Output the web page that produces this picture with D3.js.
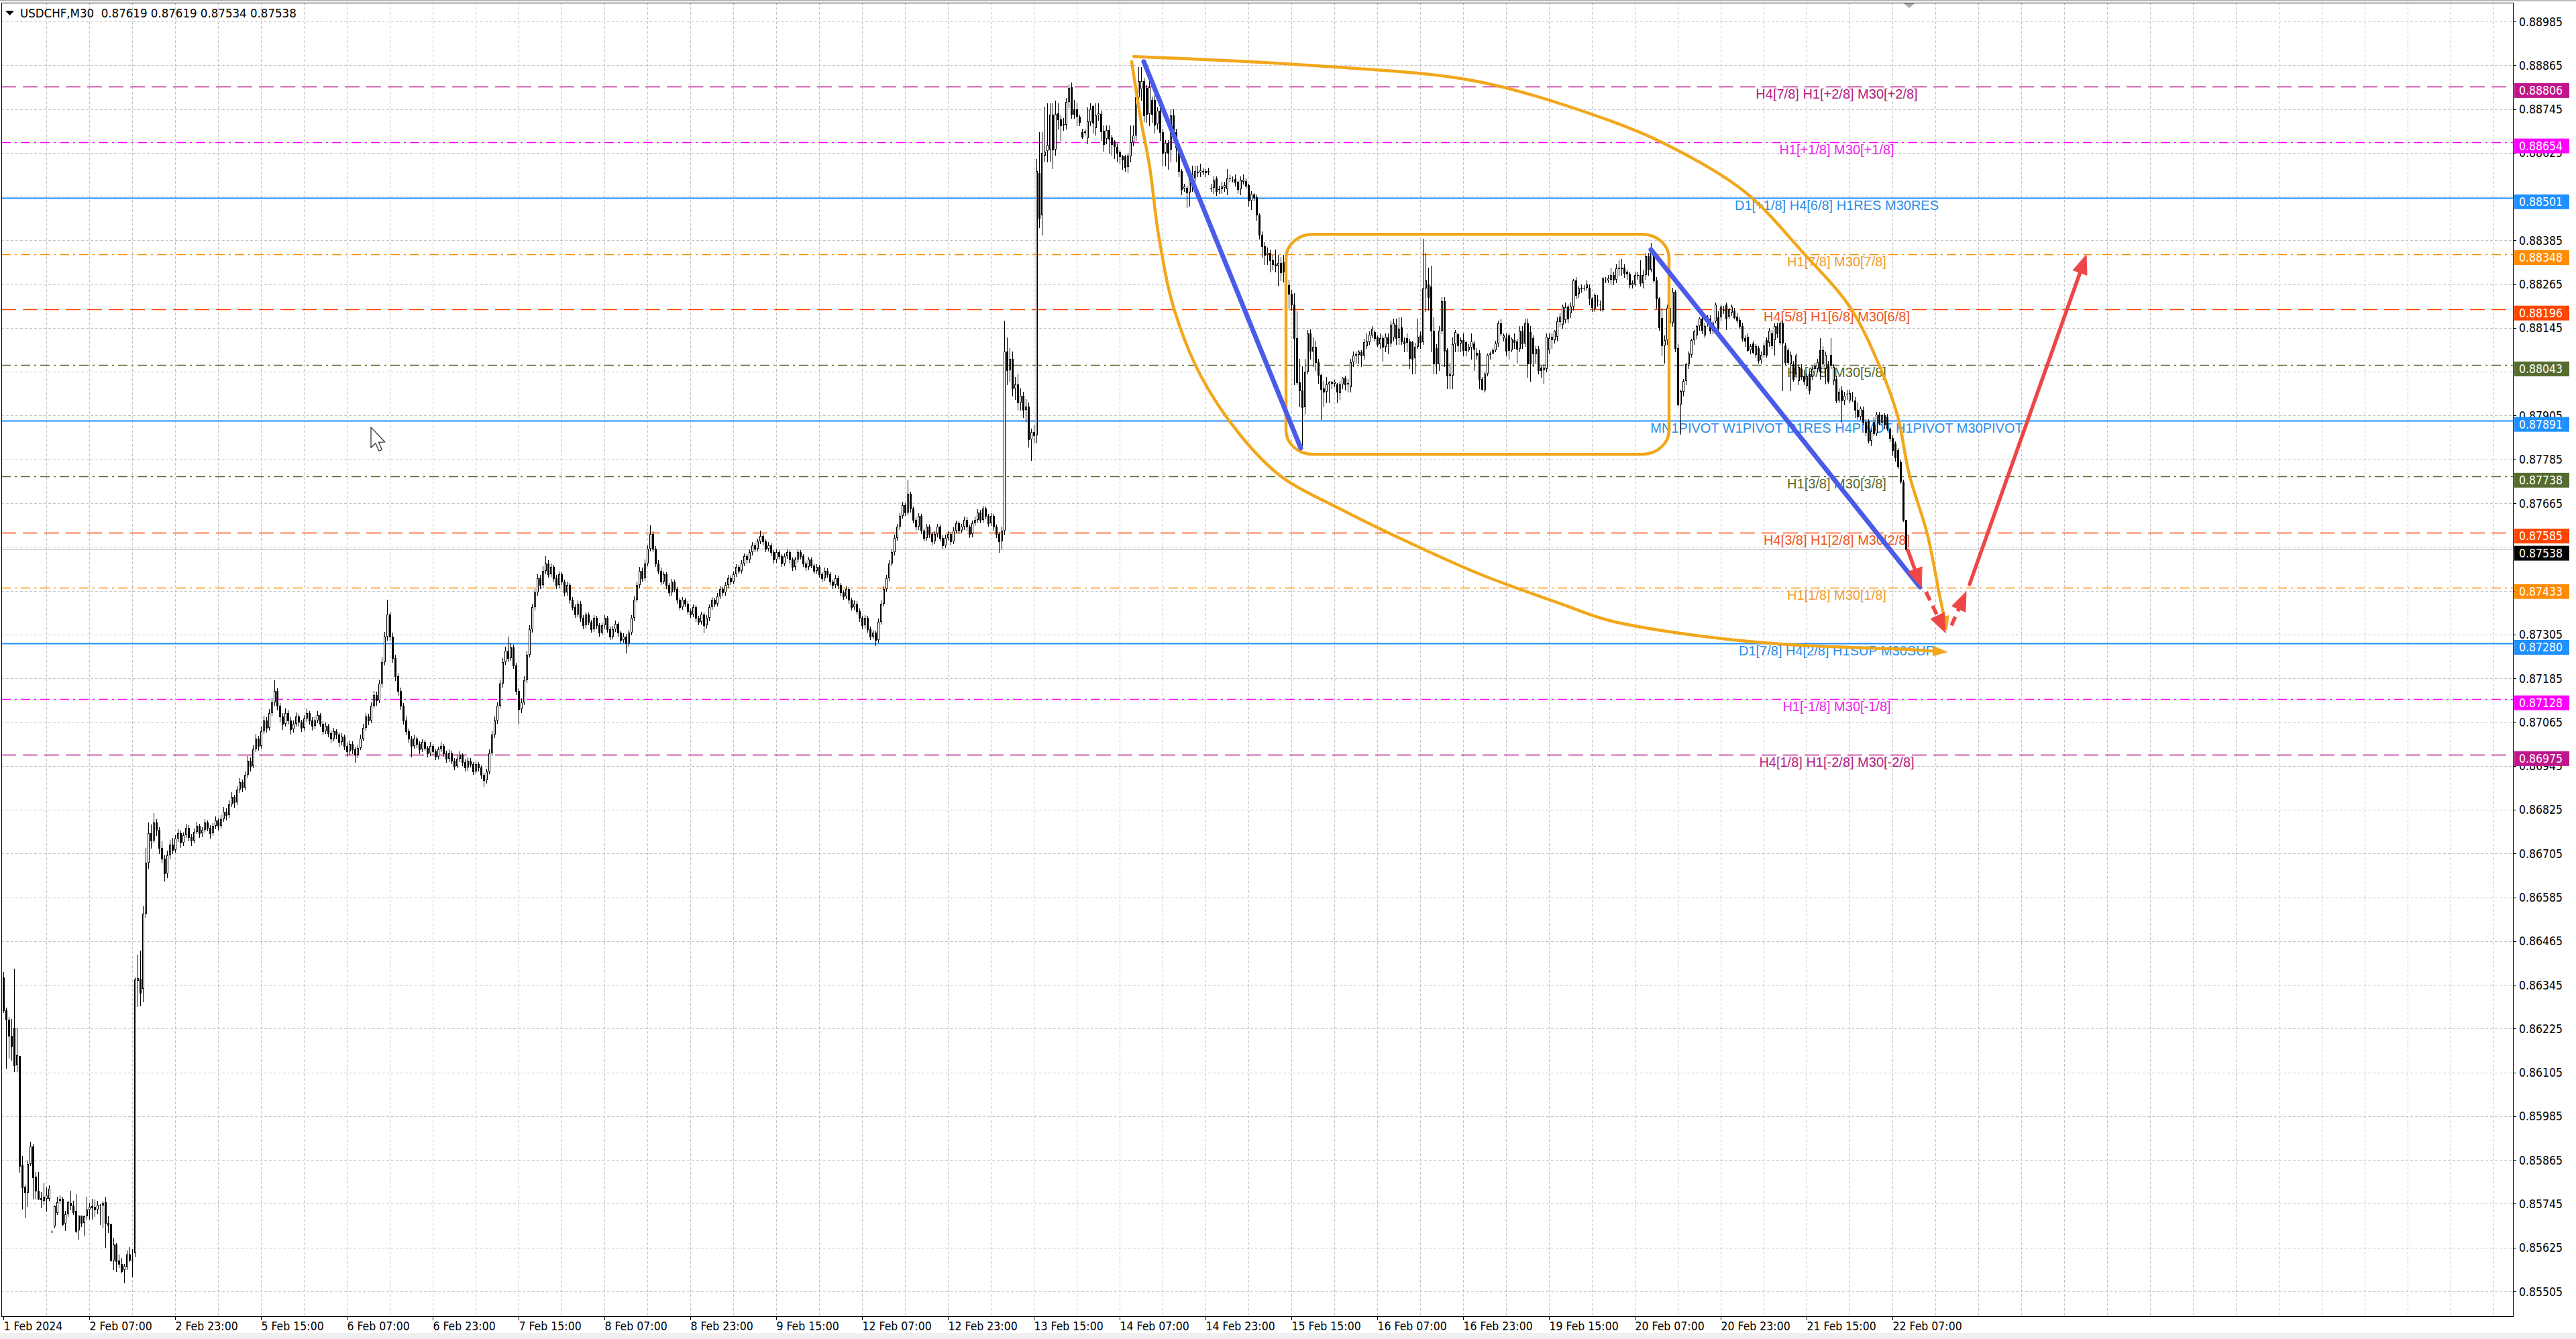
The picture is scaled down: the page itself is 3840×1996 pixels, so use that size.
<!DOCTYPE html>
<html><head><meta charset="utf-8">
<script src="https://cdn.jsdelivr.net/npm/d3@7"></script>
<style>html,body{margin:0;padding:0;background:#fff;overflow:hidden}</style>
</head><body>
<svg id="chart" width="3840" height="1996" xmlns="http://www.w3.org/2000/svg"></svg>
<script>
// ---------------- DATA ----------------
const symbol = "USDCHF,M30";
const PRICE_BASE = 0.85, POINT = 0.00001; // values below are points above 0.85000

const opens = [
1366,1276,1249,1206,1228,1125,1151,850,792,775,
854,903,819,781,760,753,759,759,669,683,
721,753,759,690,716,748,741,725,672,712,
693,710,730,738,736,729,741,740,749,692,
689,589,633,589,581,563,572,607,592,609,
1357,1361,1334,1540,1680,1760,1740,1790,1770,1720,
1690,1650,1700,1730,1715,1745,1760,1735,1755,1775,
1750,1740,1765,1780,1760,1770,1790,1775,1760,1780,
1795,1780,1800,1820,1810,1840,1860,1845,1880,1900,
1885,1920,1960,1945,1990,2020,2000,2040,2070,2050,
2090,2120,2150,2110,2080,2060,2090,2070,2045,2060,
2080,2065,2050,2075,2090,2070,2055,2070,2085,2060,
2040,2055,2035,2020,2040,2030,2010,2025,2000,1985,
2005,1990,1975,1995,2020,2050,2080,2070,2110,2140,
2125,2170,2230,2300,2360,2300,2240,2190,2150,2110,
2070,2040,2020,2000,2020,2005,1990,2010,1995,1980,
2000,1985,1970,1990,2000,1980,1965,1980,1960,1945,
1965,1975,1955,1940,1960,1950,1930,1950,1940,1920,
1905,1930,1980,2030,2070,2110,2170,2230,2260,2240,
2270,2220,2150,2100,2120,2180,2250,2320,2380,2420,
2460,2440,2480,2500,2470,2490,2460,2440,2470,2450,
2420,2440,2400,2380,2360,2390,2350,2330,2360,2340,
2320,2350,2330,2310,2330,2350,2320,2300,2320,2335,
2310,2290,2300,2280,2310,2350,2400,2440,2480,2460,
2500,2540,2580,2540,2500,2480,2450,2470,2440,2420,
2450,2430,2400,2380,2400,2390,2370,2360,2380,2350,
2340,2360,2330,2350,2380,2400,2390,2410,2430,2420,
2440,2460,2450,2470,2490,2480,2500,2520,2510,2530,
2550,2540,2560,2575,2560,2540,2550,2530,2510,2530,
2520,2500,2520,2530,2510,2490,2510,2530,2520,2500,
2490,2510,2495,2480,2490,2470,2460,2480,2470,2450,
2440,2460,2440,2420,2410,2430,2400,2380,2390,2370,
2350,2330,2350,2320,2300,2310,2290,2340,2390,2430,
2460,2500,2530,2570,2600,2630,2660,2640,2690,2650,
2620,2600,2630,2590,2570,2600,2580,2560,2580,2600,
2570,2550,2570,2580,2560,2590,2610,2590,2600,2620,
2600,2580,2610,2620,2640,2620,2650,2630,2610,2630,
2600,2580,2560,2590,3080,3030,3060,2980,2990,2940,
2960,2920,2930,2840,2860,2850,3569,3453,3618,3630,
3633,3730,3633,3733,3717,3703,3702,3765,3805,3744,
3744,3724,3682,3684,3666,3710,3753,3692,3727,3731,
3685,3664,3688,3667,3656,3641,3626,3616,3615,3587,
3615,3655,3673,3777,3799,3822,3803,3731,3770,3770,
3704,3741,3682,3624,3652,3633,3728,3682,3624,3575,
3527,3529,3517,3532,3554,3570,3572,3574,3575,3572,
3530,3529,3554,3525,3525,3529,3526,3555,3552,3553,
3545,3525,3546,3548,3537,3495,3511,3503,3456,3400,
3370,3345,3350,3330,3320,3316,3323,3325,3300,3262,
3238,3210,3118,2996,2974,2928,3026,3131,3080,3094,
3051,3017,2980,2971,2990,2993,2992,2990,2966,2990,
3008,2990,2983,3051,3069,3072,3078,3069,3095,3106,
3124,3134,3121,3100,3118,3094,3120,3103,3120,3155,
3118,3146,3109,3118,3109,3106,3063,3094,3124,3106,
3253,3265,3259,3137,3090,3045,3137,3219,3085,3014,
3014,3100,3128,3103,3112,3106,3085,3091,3103,3076,
3076,3005,2974,3020,3072,3075,3085,3103,3158,3118,
3118,3124,3085,3112,3109,3088,3137,3103,3158,3134,
3118,3073,3088,3036,3030,3033,3085,3112,3112,3121,
3161,3155,3167,3204,3186,3204,3275,3238,3253,3256,
3256,3256,3225,3198,3222,3210,3195,3278,3275,3278,
3290,3278,3308,3308,3311,3299,3293,3262,3265,3291,
3290,3268,3290,3342,3305,3345,3275,3226,3173,3097,
3112,3200,3160,3245,3090,2935,2970,3000,3046,3072,
3112,3125,3151,3170,3125,3157,3171,3138,3164,3174,
3174,3194,3210,3177,3187,3190,3177,3167,3151,3118,
3121,3085,3102,3072,3089,3056,3072,3111,3105,3131,
3111,3151,3105,3157,3098,3085,3046,3046,3020,3000,
3033,3013,2987,3020,3013,3033,3033,3085,3046,3033,
3046,3072,3000,3006,2947,2974,2947,2964,2947,2960,
2947,2921,2902,2921,2888,2892,2836,2888,2856,2908,
2885,2905,2902,2869,2843,2829,2810,2777,2724,2619];

const highs = [
1380,1282,1257,1252,1390,1228,1151,876,796,863,
915,909,833,833,778,802,790,796,672,741,
765,768,765,725,753,781,753,771,713,713,
713,765,747,759,756,753,744,753,765,710,
689,652,637,606,597,581,618,627,621,1365,
1427,1439,1560,1720,1790,1785,1815,1800,1778,1738,
1700,1712,1742,1748,1756,1772,1768,1762,1786,1782,
1758,1774,1792,1786,1778,1800,1796,1782,1788,1806,
1801,1810,1832,1828,1850,1872,1866,1890,1912,1908,
1930,1972,1968,2002,2032,2028,2052,2082,2078,2100,
2132,2180,2158,2118,2090,2102,2098,2078,2070,2092,
2086,2072,2084,2102,2096,2078,2080,2096,2090,2068,
2064,2060,2042,2050,2046,2036,2034,2030,2008,2014,
2012,1996,2004,2030,2060,2090,2088,2120,2150,2148,
2180,2242,2312,2400,2368,2310,2250,2198,2160,2118,
2080,2048,2028,2030,2026,2012,2018,2016,2000,2010,
2006,1990,1998,2010,2006,1986,1990,1986,1966,1974,
1984,1980,1962,1968,1966,1956,1958,1956,1946,1926,
1938,1990,2040,2080,2120,2180,2240,2272,2300,2282,
2278,2228,2158,2130,2190,2260,2330,2390,2430,2470,
2468,2492,2520,2508,2500,2496,2468,2478,2476,2456,
2450,2446,2408,2388,2398,2396,2358,2368,2366,2346,
2358,2356,2336,2338,2358,2356,2326,2328,2344,2340,
2316,2308,2306,2318,2358,2410,2450,2490,2488,2510,
2550,2605,2588,2548,2508,2488,2478,2476,2446,2458,
2456,2436,2406,2408,2406,2396,2376,2388,2386,2356,
2368,2366,2358,2388,2408,2406,2418,2438,2436,2448,
2468,2466,2478,2498,2496,2508,2528,2526,2538,2558,
2556,2568,2590,2580,2566,2558,2556,2536,2538,2536,
2526,2528,2538,2536,2516,2518,2538,2536,2526,2506,
2518,2516,2500,2498,2496,2476,2488,2486,2476,2456,
2468,2466,2446,2426,2438,2436,2406,2398,2396,2376,
2356,2358,2356,2326,2318,2316,2348,2398,2438,2468,
2508,2538,2578,2608,2638,2668,2666,2730,2696,2656,
2626,2638,2636,2596,2608,2606,2586,2588,2608,2606,
2576,2578,2588,2586,2598,2618,2616,2608,2628,2626,
2606,2618,2628,2648,2646,2658,2656,2636,2638,2636,
2606,2586,2600,3166,3120,3090,3080,3010,3020,2980,
2970,2950,2940,2870,2880,3609,3682,3682,3751,3760,
3760,3760,3768,3760,3727,3720,3775,3812,3818,3770,
3760,3730,3690,3690,3750,3760,3755,3760,3760,3740,
3700,3700,3700,3675,3660,3650,3632,3620,3620,3625,
3700,3700,3780,3860,3860,3830,3810,3830,3780,3790,
3750,3750,3690,3660,3660,3745,3745,3690,3630,3580,
3540,3535,3565,3590,3590,3590,3596,3585,3580,3585,
3540,3560,3560,3535,3545,3545,3580,3565,3560,3565,
3550,3560,3565,3555,3540,3520,3515,3510,3460,3410,
3380,3365,3360,3345,3360,3345,3340,3345,3310,3277,
3250,3240,3190,3060,3040,3060,3140,3142,3120,3110,
3060,3020,3000,3010,3000,3000,3004,2995,3000,3010,
3015,3005,3060,3080,3080,3085,3085,3115,3130,3135,
3150,3140,3125,3130,3125,3130,3130,3165,3170,3170,
3175,3175,3120,3130,3115,3110,3105,3170,3135,3390,
3350,3310,3315,3175,3100,3150,3230,3230,3090,3050,
3120,3140,3130,3120,3130,3110,3100,3130,3110,3090,
3085,3010,3025,3075,3080,3090,3110,3165,3170,3130,
3130,3130,3120,3130,3115,3150,3150,3170,3170,3150,
3125,3095,3095,3040,3045,3130,3130,3130,3140,3175,
3185,3210,3215,3210,3215,3280,3285,3260,3265,3262,
3275,3265,3230,3240,3235,3220,3285,3285,3290,3310,
3300,3320,3330,3335,3320,3305,3300,3275,3300,3300,
3330,3305,3350,3350,3378,3360,3285,3230,3200,3125,
3210,3215,3256,3250,3100,2975,3005,3050,3080,3115,
3140,3155,3175,3175,3160,3180,3180,3165,3215,3190,
3210,3205,3215,3200,3210,3200,3185,3175,3160,3125,
3130,3100,3110,3100,3095,3080,3105,3120,3145,3140,
3157,3160,3164,3165,3105,3090,3080,3055,3075,3045,
3045,3030,3020,3025,3040,3050,3060,3118,3095,3080,
3055,3118,3045,3015,2980,2985,2970,2975,2975,2970,
2955,2941,2930,2930,2895,2895,2870,2900,2915,2915,
2910,2912,2910,2875,2850,2835,2815,2785,2730,2619];

const lows = [
1270,1118,1145,1139,1108,1108,833,732,707,738,
851,759,759,756,735,744,725,753,667,680,
716,747,686,673,710,729,716,667,649,683,
658,704,704,704,710,719,689,680,627,667,
587,566,560,572,557,529,566,587,545,600,
1286,1289,1300,1530,1665,1720,1735,1755,1705,1680,
1630,1640,1690,1705,1710,1738,1722,1728,1750,1741,
1728,1735,1760,1750,1752,1764,1768,1748,1755,1774,
1770,1776,1794,1798,1804,1835,1832,1840,1872,1874,
1880,1914,1932,1940,1984,1988,1994,2034,2038,2044,
2084,2112,2098,2068,2046,2054,2060,2032,2038,2054,
2055,2040,2044,2068,2060,2044,2048,2064,2052,2030,
2034,2026,2010,2014,2020,1998,2004,1990,1972,1978,
1980,1955,1968,1990,2014,2044,2058,2064,2104,2112,
2120,2162,2222,2290,2290,2230,2180,2140,2100,2060,
2030,2010,1970,1994,1996,1980,1984,1988,1970,1974,
1976,1962,1964,1984,1972,1956,1958,1952,1936,1940,
1958,1946,1932,1934,1942,1922,1924,1932,1912,1890,
1898,1924,1974,2024,2062,2104,2162,2224,2232,2234,
2212,2142,2060,2092,2114,2174,2244,2312,2372,2414,
2432,2434,2472,2462,2464,2452,2432,2434,2442,2412,
2414,2392,2372,2352,2354,2342,2322,2324,2332,2312,
2314,2322,2302,2304,2324,2312,2292,2294,2314,2302,
2282,2284,2255,2274,2304,2344,2394,2434,2452,2454,
2494,2534,2532,2492,2472,2442,2444,2432,2412,2414,
2422,2392,2372,2374,2382,2362,2352,2354,2342,2332,
2334,2310,2324,2344,2374,2382,2384,2404,2412,2414,
2434,2442,2444,2464,2472,2474,2494,2502,2504,2524,
2532,2534,2554,2552,2532,2534,2522,2502,2504,2512,
2492,2494,2514,2502,2482,2484,2504,2512,2492,2482,
2484,2488,2472,2474,2462,2452,2454,2462,2442,2432,
2434,2432,2412,2402,2404,2392,2372,2374,2362,2342,
2322,2324,2312,2292,2294,2275,2284,2334,2384,2424,
2454,2494,2524,2564,2594,2624,2632,2634,2642,2612,
2592,2594,2582,2562,2564,2572,2552,2554,2574,2562,
2542,2544,2564,2552,2554,2584,2582,2584,2594,2592,
2572,2574,2604,2614,2612,2614,2622,2602,2604,2592,
2572,2530,2540,2580,2990,3000,2960,2950,2920,2920,
2900,2890,2820,2783,2830,2830,3420,3400,3602,3600,
3603,3583,3620,3690,3660,3687,3690,3750,3720,3720,
3700,3700,3665,3675,3650,3700,3680,3675,3715,3660,
3630,3650,3625,3620,3610,3600,3595,3580,3575,3572,
3600,3645,3660,3760,3770,3712,3710,3700,3710,3680,
3690,3660,3590,3590,3580,3600,3660,3600,3560,3510,
3520,3475,3480,3520,3545,3560,3560,3565,3560,3565,
3520,3515,3508,3515,3515,3520,3510,3545,3545,3535,
3515,3510,3540,3530,3480,3470,3495,3440,3390,3340,
3320,3320,3300,3305,3300,3260,3275,3272,3250,3200,
3195,2990,2990,2930,2824,2910,3020,3060,3040,3030,
2995,2895,2930,2940,2940,2980,2985,2940,2950,2980,
2975,2970,2970,3040,3050,3050,3040,3060,3090,3100,
3120,3110,3095,3090,3055,3080,3075,3095,3110,3100,
3100,3100,3080,3080,3035,3020,3020,3090,3090,3100,
3190,3195,3080,3020,3020,3030,3130,3040,2980,2980,
2980,3080,3080,3080,3070,3070,3080,3060,3030,3060,
2980,2975,2970,3015,3060,3075,3080,3095,3125,3110,
3070,3060,3080,3090,3050,3080,3090,3095,3010,3000,
3040,3050,3020,3010,2995,3025,3075,3090,3105,3110,
3150,3145,3160,3160,3175,3195,3225,3230,3245,3248,
3250,3210,3190,3190,3205,3192,3190,3270,3270,3265,
3265,3270,3290,3290,3285,3280,3255,3255,3260,3280,
3260,3255,3280,3290,3300,3270,3200,3140,3070,3050,
3100,3150,3150,3080,2931,2855,2960,2990,3035,3065,
3100,3115,3140,3130,3120,3150,3130,3130,3160,3140,
3165,3185,3141,3170,3180,3170,3160,3145,3110,3095,
3080,3075,3075,3065,3050,3050,3065,3065,3095,3090,
3072,3120,3100,2974,3045,3045,2974,3000,3010,2990,
3005,2990,2980,2965,3005,3025,3025,3006,3040,2993,
2995,3035,2990,2940,2940,2888,2935,2950,2940,2945,
2900,2895,2895,2880,2850,2830,2823,2850,2850,2880,
2880,2870,2865,2835,2796,2780,2760,2720,2615,2534];

const closes = [
1276,1249,1206,1176,1124,1153,848,790,778,854,
903,817,781,759,756,765,768,787,669,738,
750,759,689,716,750,741,722,670,712,692,
710,730,736,735,730,743,741,747,693,687,
589,633,587,580,561,575,606,592,592,1360,
1363,1324,1540,1680,1760,1740,1790,1770,1720,1690,
1650,1700,1730,1715,1745,1760,1735,1755,1775,1750,
1740,1765,1780,1760,1770,1790,1775,1760,1780,1795,
1780,1800,1820,1810,1840,1860,1845,1880,1900,1885,
1920,1960,1945,1990,2020,2000,2040,2070,2050,2090,
2120,2150,2110,2080,2060,2090,2070,2045,2060,2080,
2065,2050,2075,2090,2070,2055,2070,2085,2060,2040,
2055,2035,2020,2040,2030,2010,2025,2000,1985,2005,
1990,1975,1995,2020,2050,2080,2070,2110,2140,2125,
2170,2230,2300,2360,2300,2240,2190,2150,2110,2070,
2040,2020,2000,2020,2005,1990,2010,1995,1980,2000,
1985,1970,1990,2000,1980,1965,1980,1960,1945,1965,
1975,1955,1940,1960,1950,1930,1950,1940,1920,1905,
1930,1980,2030,2070,2110,2170,2230,2260,2240,2270,
2220,2150,2100,2120,2180,2250,2320,2380,2420,2460,
2440,2480,2500,2470,2490,2460,2440,2470,2450,2420,
2440,2400,2380,2360,2390,2350,2330,2360,2340,2320,
2350,2330,2310,2330,2350,2320,2300,2320,2335,2310,
2290,2300,2280,2310,2350,2400,2440,2480,2460,2500,
2540,2580,2540,2500,2480,2450,2470,2440,2420,2450,
2430,2400,2380,2400,2390,2370,2360,2380,2350,2340,
2360,2330,2350,2380,2400,2390,2410,2430,2420,2440,
2460,2450,2470,2490,2480,2500,2520,2510,2530,2550,
2540,2560,2575,2560,2540,2550,2530,2510,2530,2520,
2500,2520,2530,2510,2490,2510,2530,2520,2500,2490,
2510,2495,2480,2490,2470,2460,2480,2470,2450,2440,
2460,2440,2420,2410,2430,2400,2380,2390,2370,2350,
2330,2350,2320,2300,2310,2290,2340,2390,2430,2460,
2500,2530,2570,2600,2630,2660,2640,2690,2650,2620,
2600,2630,2590,2570,2600,2580,2560,2580,2600,2570,
2550,2570,2580,2560,2590,2610,2590,2600,2620,2600,
2580,2610,2620,2640,2620,2650,2630,2610,2630,2600,
2580,2560,2590,3080,3030,3060,2980,2990,2940,2960,
2920,2930,2840,2860,2850,3575,3446,3624,3628,3646,
3730,3633,3731,3716,3701,3702,3765,3803,3731,3731,
3726,3710,3668,3681,3711,3745,3707,3728,3733,3684,
3649,3688,3664,3649,3643,3624,3615,3606,3587,3618,
3655,3673,3777,3821,3822,3728,3731,3804,3731,3702,
3741,3682,3624,3652,3624,3728,3673,3639,3575,3526,
3533,3517,3557,3566,3575,3574,3576,3575,3572,3575,
3529,3549,3520,3525,3532,3537,3555,3555,3552,3543,
3525,3552,3552,3535,3495,3512,3503,3456,3400,3370,
3345,3350,3330,3320,3316,3323,3297,3300,3262,3238,
3210,3118,2996,2974,2928,3026,3131,3082,3094,3051,
3017,2977,2971,2990,2996,2998,2997,2971,2990,3008,
2990,2995,3051,3069,3073,3080,3069,3106,3109,3127,
3143,3118,3100,3118,3094,3121,3103,3155,3158,3118,
3143,3109,3103,3106,3063,3060,3094,3121,3106,3253,
3275,3229,3137,3048,3048,3137,3219,3082,3014,3020,
3100,3134,3097,3112,3085,3085,3094,3109,3088,3072,
3005,2977,3020,3072,3075,3085,3103,3158,3131,3124,
3082,3085,3115,3106,3088,3137,3103,3158,3048,3048,
3075,3088,3030,3030,3036,3121,3118,3121,3137,3164,
3176,3204,3201,3170,3204,3275,3235,3253,3256,3256,
3265,3225,3201,3235,3222,3210,3281,3278,3281,3290,
3278,3308,3311,3311,3296,3293,3265,3268,3290,3291,
3268,3290,3342,3305,3360,3275,3226,3146,3097,3112,
3200,3160,3245,3090,2935,2972,3000,3046,3075,3112,
3135,3151,3170,3140,3151,3174,3138,3160,3210,3144,
3203,3194,3171,3197,3203,3174,3167,3151,3118,3110,
3085,3095,3079,3095,3056,3072,3098,3072,3138,3098,
3151,3130,3157,3105,3052,3052,3072,3006,3069,3039,
3013,3000,3013,2974,3033,3040,3052,3026,3085,3072,
3000,3043,3039,2947,2970,2947,2960,2964,2967,2960,
2921,2902,2925,2888,2860,2836,2862,2856,2908,2885,
2905,2880,2869,2843,2810,2790,2767,2724,2619,2538];

// time axis labels (one every 32 bars of M30)
const timeLabels = ["1 Feb 2024","2 Feb 07:00","2 Feb 23:00","5 Feb 15:00","6 Feb 07:00","6 Feb 23:00",
  "7 Feb 15:00","8 Feb 07:00","8 Feb 23:00","9 Feb 15:00","12 Feb 07:00","12 Feb 23:00","13 Feb 15:00",
  "14 Feb 07:00","14 Feb 23:00","15 Feb 15:00","16 Feb 07:00","16 Feb 23:00","19 Feb 15:00","20 Feb 07:00",
  "20 Feb 23:00","21 Feb 15:00","22 Feb 07:00"];
const barsPerLabel = 32;

// price axis ticks
const priceTicks = [0.88985,0.88865,0.88745,0.88625,0.88505,0.88385,0.88265,0.88145,0.88025,0.87905,
  0.87785,0.87665,0.87545,0.87425,0.87305,0.87185,0.87065,0.86945,0.86825,0.86705,0.86585,0.86465,
  0.86345,0.86225,0.86105,0.85985,0.85865,0.85745,0.85625,0.85505];

// Murrey / pivot levels
const levelPrices = [0.88806,0.88654,0.88501,0.88348,0.88196,0.88043,0.87891,0.87738,0.87585,0.87433,0.87280,0.87128,0.86975];
const levelNames = ["H4[7/8] H1[+2/8] M30[+2/8]","H1[+1/8] M30[+1/8]","D1[+1/8] H4[6/8] H1RES M30RES",
  "H1[7/8] M30[7/8]","H4[5/8] H1[6/8] M30[6/8]","H1[5/8] M30[5/8]",
  "MN1PIVOT W1PIVOT D1RES H4PIVOT H1PIVOT M30PIVOT","H1[3/8] M30[3/8]","H4[3/8] H1[2/8] M30[2/8]",
  "H1[1/8] M30[1/8]","D1[7/8] H4[2/8] H1SUP M30SUP","H1[-1/8] M30[-1/8]","H4[1/8] H1[-2/8] M30[-2/8]"];
const levelLabelBar = 683.25;

// drawn objects, as [bar index, points above 0.85]
const arcUpper = [[421.25,3889],[488.5,3864],[549.75,3820],[598.75,3713],[621,3643],[649,3518],[671.25,3347],
  [688,3204],[699.25,3040],[706,2902],[710.25,2744],[717,2580],[721.5,2415],[724.25,2318]];
const arcLower = [[420.5,3875],[423.75,3722],[427.25,3584],[430.5,3400],[436.25,3198],[446.25,3014],[461.25,2849],
  [476.25,2738],[498.75,2647],[519.25,2573],[549.75,2472],[580.5,2389],[598.75,2343],[632.25,2301],
  [665.75,2277],[710.25,2264],[724.25,2257]];
const rangeBox = [[478,3402],[620.75,2799]];
const blueLines = [[[425,3875],[483.5,2816]],[[614,3360],[714.25,2435]]];
const redArrows = [
  {from:[709.75,2536], to:[714.75,2435], dashed:false},
  {from:[716.5,2422],  to:[723.75,2310], dashed:true},
  {from:[726,2330],    to:[731.5,2422],  dashed:true},
  {from:[732.75,2443], to:[776.25,3345], dashed:false}];
const cursorAt = [137,2873];

// ---------------- STYLES ----------------
const levelStyle = [
  {c:"#C0168C", t:"#B5207F", d:"22,10"},
  {c:"#FF00FF", t:"#EE22EE", d:"14,6,3,6"},
  {c:"#1E90FF", t:"#2B8DE8", d:null},
  {c:"#FF8C00", t:"#F29A2E", d:"14,6,3,6"},
  {c:"#FF4500", t:"#EE5522", d:"22,10"},
  {c:"#556B2F", t:"#56672E", d:"14,6,3,6"},
  {c:"#1E90FF", t:"#2B8DE8", d:null},
  {c:"#556B2F", t:"#56672E", d:"14,6,3,6"},
  {c:"#FF4500", t:"#EE5522", d:"22,10"},
  {c:"#FF8C00", t:"#F29A2E", d:"14,6,3,6"},
  {c:"#1E90FF", t:"#2B8DE8", d:null},
  {c:"#FF00FF", t:"#EE22EE", d:"14,6,3,6"},
  {c:"#C0168C", t:"#B5207F", d:"22,10"}];
const AXIS_FONT = "'DejaVu Sans Condensed','Liberation Sans',Arial,sans-serif";
const ORANGE = "#F2A71B", BLUE = "#4A5BE8", RED = "#EE4646";

// ---------------- SCALES ----------------
const W = 3840, H = 1996;
const L = 2, T = 4, R = 3746, B = 1962;
const toPrice = p => PRICE_BASE + p * POINT;
const x = d3.scaleLinear().domain([0, 935.25]).range([5, 3746]);
const y = d3.scaleLinear().domain([0.85437, 0.890365]).range([B, T]);
const P = d => [x(d[0]), y(toPrice(d[1]))];

const svg = d3.select("#chart");
svg.append("rect").attr("width", W).attr("height", H).attr("fill", "#fff");
svg.append("rect").attr("x",0).attr("y",0).attr("width",W).attr("height",2).attr("fill","#B8B8B8");
svg.append("rect").attr("x",0).attr("y",1987).attr("width",W).attr("height",9).attr("fill","#F0F0F0");

const defs = svg.append("defs");
defs.append("clipPath").attr("id","plot").append("rect").attr("x",L).attr("y",T).attr("width",R-L).attr("height",B-T);
const plot = svg.append("g").attr("clip-path","url(#plot)");

// grid
const gGrid = plot.append("g").attr("stroke","#C4C4C4").attr("stroke-width",1).attr("stroke-dasharray","4,3").attr("shape-rendering","crispEdges");
gGrid.selectAll("line.h").data(priceTicks).join("line")
  .attr("x1",L).attr("x2",R).attr("y1",d=>Math.round(y(d))+0.5).attr("y2",d=>Math.round(y(d))+0.5);
const vgrid = d3.range(16, 936, 16);
gGrid.selectAll("line.v").data(vgrid).join("line")
  .attr("y1",T).attr("y2",B).attr("x1",d=>Math.round(x(d))+0.5).attr("x2",d=>Math.round(x(d))+0.5);

// level lines
const lastClose = toPrice(closes[closes.length-1]);
plot.append("line").attr("x1",L).attr("x2",R).attr("y1",Math.round(y(lastClose))+0.5).attr("y2",Math.round(y(lastClose))+0.5)
  .attr("stroke","#C0C0C0").attr("stroke-width",1);
const gLev = plot.append("g");
levelPrices.forEach((p,k)=>{
  const st = levelStyle[k];
  const ln = gLev.append("line").attr("x1",L).attr("x2",R)
    .attr("y1",Math.round(y(p))+0.5).attr("y2",Math.round(y(p))+0.5)
    .attr("stroke",st.c).attr("stroke-width", st.d ? 1.5 : 2);
  if (st.d) ln.attr("stroke-dasharray", st.d);
});
const gLevT = plot.append("g").attr("font-family","'Liberation Sans',Arial,sans-serif").attr("font-size",20).attr("text-anchor","middle");
levelPrices.forEach((p,k)=>{
  gLevT.append("text").attr("x",x(levelLabelBar)).attr("y",y(p)+18).attr("fill",levelStyle[k].t).text(levelNames[k]);
});

// candles
const bars = closes.map((c,i)=>({i, o:toPrice(opens[i]), h:toPrice(highs[i]), l:toPrice(lows[i]), c:toPrice(c)}));
const gC = plot.append("g").attr("shape-rendering","crispEdges");
gC.selectAll("line.w").data(bars).join("line")
  .attr("x1",d=>Math.round(x(d.i))+0.5).attr("x2",d=>Math.round(x(d.i))+0.5)
  .attr("y1",d=>Math.round(y(d.h))).attr("y2",d=>Math.round(y(d.l))+1)
  .attr("stroke","#000").attr("stroke-width",1);
bars.forEach(d=>{
  const cx = Math.round(x(d.i));
  const yo = Math.round(y(d.o)), yc = Math.round(y(d.c));
  if (d.c > d.o && yo - yc >= 2) {
    gC.append("rect").attr("x",cx-0.5).attr("y",yc+0.5).attr("width",2).attr("height",yo-yc-1)
      .attr("fill","#fff").attr("stroke","#000").attr("stroke-width",1);
  } else if (d.c < d.o && yc - yo >= 1) {
    gC.append("rect").attr("x",cx-1).attr("y",yo).attr("width",3).attr("height",yc-yo+1).attr("fill","#000");
  } else {
    gC.append("rect").attr("x",cx-1).attr("y",Math.min(yo,yc)).attr("width",3).attr("height",Math.abs(yo-yc)+1).attr("fill","#000");
  }
});

// drawings
const gD = plot.append("g").attr("fill","none").attr("stroke-linecap","round").attr("stroke-linejoin","round");
function head(p0, p1, len, wid){
  const dx=p1[0]-p0[0], dy=p1[1]-p0[1], Ln=Math.hypot(dx,dy), ux=dx/Ln, uy=dy/Ln;
  const bx=p1[0]-ux*len, by=p1[1]-uy*len;
  return {base:[bx,by], pts:[p1,[bx-uy*wid/2,by+ux*wid/2],[bx+uy*wid/2,by-ux*wid/2]]};
}
const rb0 = P(rangeBox[0]), rb1 = P(rangeBox[1]);
gD.append("rect").attr("x",rb0[0]).attr("y",rb0[1]).attr("width",rb1[0]-rb0[0]).attr("height",rb1[1]-rb0[1])
  .attr("rx",40).attr("ry",36).attr("stroke",ORANGE).attr("stroke-width",4.5);
const curve = d3.line().curve(d3.curveCatmullRom.alpha(0.5));
[arcUpper, arcLower].forEach(arr=>{
  const pts = arr.map(P);
  const n = pts.length;
  const hd = head(pts[n-2], pts[n-1], 20, 14);
  const body = pts.slice(0,n-1).concat([hd.base]);
  gD.append("path").attr("d",curve(body)).attr("stroke",ORANGE).attr("stroke-width",4.5);
  gD.append("polygon").attr("points",hd.pts.map(p=>p.join(",")).join(" ")).attr("fill",ORANGE).attr("stroke",ORANGE).attr("stroke-width",1);
});
blueLines.forEach(seg=>{
  const a=P(seg[0]), b=P(seg[1]);
  gD.append("line").attr("x1",a[0]).attr("y1",a[1]).attr("x2",b[0]).attr("y2",b[1]).attr("stroke",BLUE).attr("stroke-width",7);
});
redArrows.forEach(ar=>{
  const a=P(ar.from), b=P(ar.to);
  const hd = head(a,b,28,22);
  const ln = gD.append("line").attr("x1",a[0]).attr("y1",a[1]).attr("x2",hd.base[0]).attr("y2",hd.base[1])
    .attr("stroke",RED).attr("stroke-width",5.5).attr("stroke-linecap", ar.dashed ? "butt" : "round");
  if (ar.dashed) ln.attr("stroke-dasharray","14,9");
  gD.append("polygon").attr("points",hd.pts.map(p=>p.join(",")).join(" ")).attr("fill",RED).attr("stroke",RED).attr("stroke-width",1);
});
const cp = P(cursorAt);
svg.append("path").attr("transform",`translate(${cp[0]},${cp[1]}) scale(1.9)`)
  .attr("d","M0,0 L0,16 L3.6,12.6 L6.3,18.6 L8.6,17.6 L6,11.8 L11,11.6 Z")
  .attr("fill","#fff").attr("stroke","#333").attr("stroke-width",0.7).attr("stroke-linejoin","round");

// frame
svg.append("rect").attr("x",L+0.5).attr("y",T+0.5).attr("width",R-L).attr("height",B-T)
  .attr("fill","none").attr("stroke","#000").attr("stroke-width",1).attr("shape-rendering","crispEdges");
const sx = x(710.25);
svg.append("polygon").attr("points",`${sx-8},${T+1} ${sx+8},${T+1} ${sx},${T+8}`).attr("fill","#A8A8A8");

// price axis: level boxes first computed so fully covered tick labels are not drawn
const boxes = levelPrices.map((p,k)=>({p, c:levelStyle[k].c}));
boxes.push({p:lastClose, c:"#000"});
boxes.sort((a,b)=>b.p-a.p);
const boxTop = b => y(b.p) - 5.5, BOX_H = 22;
function tickHidden(p){
  const ty = y(p); let open = 0;
  for (let r = Math.round(ty-6); r <= Math.round(ty+6); r++){
    if (!boxes.some(b => r >= boxTop(b) && r <= boxTop(b)+BOX_H)) open++;
  }
  return open <= 4;
}
const gY = svg.append("g").attr("font-family",AXIS_FONT).attr("font-size",17.5).attr("fill","#000");
priceTicks.forEach(p=>{
  const yy = Math.round(y(p))+0.5;
  gY.append("line").attr("x1",R).attr("x2",R+5).attr("y1",yy).attr("y2",yy).attr("stroke","#000");
  if (!tickHidden(p)) gY.append("text").attr("x",3755).attr("y",y(p)+6.5).text(p.toFixed(5));
});
boxes.forEach(b=>{
  gY.append("rect").attr("x",3748).attr("y",boxTop(b)).attr("width",82).attr("height",BOX_H).attr("fill",b.c);
  gY.append("text").attr("x",3755).attr("y",y(b.p)+11.5).attr("fill","#fff").text(b.p.toFixed(5));
});

// time axis labels
const gX = svg.append("g").attr("font-family",AXIS_FONT).attr("font-size",17.5).attr("fill","#000");
timeLabels.forEach((t,k)=>{
  const xx = Math.round(x(k*barsPerLabel))+0.5;
  gX.append("line").attr("x1",xx).attr("x2",xx).attr("y1",B).attr("y2",B+6).attr("stroke","#000");
  gX.append("text").attr("x",xx).attr("y",1983).text(t);
});

// header
const last = bars[bars.length-1];
svg.append("polygon").attr("points","8,16 21,16 14.5,23").attr("fill","#000");
svg.append("text").attr("x",30).attr("y",26).attr("font-family",AXIS_FONT).attr("font-size",18.5).attr("fill","#000")
  .attr("xml:space","preserve")
  .text(`${symbol}  ${last.o.toFixed(5)} ${last.h.toFixed(5)} ${last.l.toFixed(5)} ${last.c.toFixed(5)}`);
</script>
</body></html>
